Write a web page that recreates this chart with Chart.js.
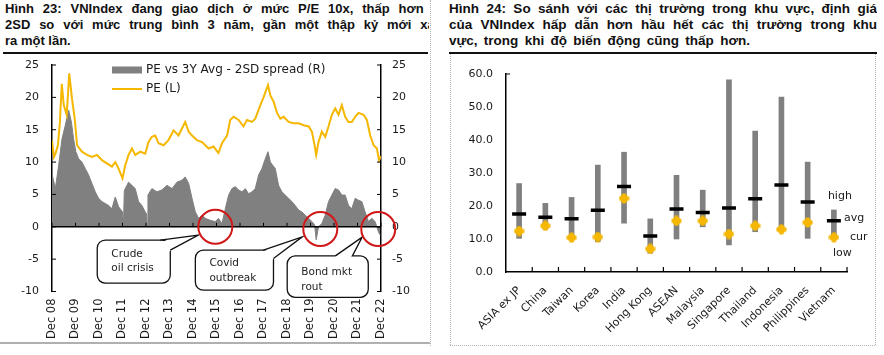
<!DOCTYPE html>
<html><head><meta charset="utf-8">
<script src="https://cdn.jsdelivr.net/npm/chart.js@4.4.1/dist/chart.umd.min.js"></script>
<style>
html,body{margin:0;padding:0;background:#fff;}
body{width:884px;height:355px;position:relative;overflow:hidden;font-family:"Liberation Sans",Arial,sans-serif;}
.title{position:absolute;top:1px;font-weight:bold;font-size:13.5px;line-height:16px;color:#111;overflow:hidden;height:50px;}
.title div{white-space:nowrap;}
.just{text-align:justify;text-align-last:justify;}
.rule{position:absolute;top:52px;height:2px;background:#111;}
.vdot{position:absolute;border-left:1px dotted #b5b5b5;}
.hdot{position:absolute;border-top:1px dotted #b5b5b5;}
canvas{position:absolute;top:0;}
</style></head><body>
<div class="title" style="left:5px;width:424px;font-size:13px;">
  <div class="just" style="width:432px">Hình 23: VNIndex đang giao dịch ở mức P/E 10x, thấp hơn -</div>
  <div class="just" style="width:437px">2SD so với mức trung bình 3 năm, gần một thập kỷ mới xảy</div>
  <div>ra một lần.</div>
</div>
<div class="title" style="left:449px;width:428px;">
  <div class="just">Hình 24: So sánh với các thị trường trong khu vực, định giá</div>
  <div class="just">của VNIndex hấp dẫn hơn hầu hết các thị trường trong khu</div>
  <div class="just" style="width:301px">vực, trong khi độ biến động cũng thấp hơn.</div>
</div>
<div class="rule" style="left:3px;width:425px;"></div>
<div class="rule" style="left:449px;width:428px;"></div>
<div class="vdot" style="left:430px;top:0;height:346px;"></div>
<div style="position:absolute;left:0;top:342px;width:430px;height:0;border-top:2px solid #b0b0b0;"></div>
<div class="vdot" style="left:450px;top:54px;height:291px;"></div>
<div class="vdot" style="left:875px;top:54px;height:291px;"></div>
<div class="hdot" style="left:450px;top:345px;width:425px;"></div>
<canvas id="left" width="430" height="355" style="left:0"></canvas>
<canvas id="right" width="425" height="355" style="left:450px"></canvas>
<script>
// ---------- Left chart data (months since Dec 2008) ----------
const xTickLabels = ['Dec 08','Dec 09','Dec 10','Dec 11','Dec 12','Dec 13','Dec 14','Dec 15','Dec 16','Dec 17','Dec 18','Dec 19','Dec 20','Dec 21','Dec 22'];
const peMonths = [0,1,2,3,4,5,6,7.5,8.8,10.2,11.6,12.8,15.3,17.9,20.4,23,25.5,28,30.6,32.3,34,36,37.4,39.1,40.8,42.5,45.1,47.6,49.3,51,52.7,54.4,57,59.5,62.1,64.6,68,69.8,71.5,74,76.6,80,82.5,85,86.8,89.4,91,92.7,95.3,97.8,99.5,102.1,103.8,106.4,108,110.3,111.5,113.2,114.9,116.6,118.3,120.8,123.4,125.9,128.5,131.1,132.7,134.1,134.9,136.1,137.8,139.5,141.2,142.9,144.6,146.3,148,149.7,151.4,153.1,154.8,156.5,159.1,160.8,162.5,164.2,165.9,167,168];
const peValues = [13.3,10.8,11.5,12.6,16.0,22.1,18.8,17.3,23.7,19.8,16.7,12.6,11.6,11.1,10.8,11.1,10.3,9.8,9.3,10.0,9.0,7.5,9.5,11.1,12.1,11.1,11.6,11.3,13.1,13.9,14.1,12.9,12.6,13.4,14.9,14.1,16.2,14.7,14.1,13.4,13.1,12.1,12.4,11.4,12.9,14.1,16.5,17.0,16.5,15.5,16.5,16.2,16.7,18.8,20.0,21.9,20.3,19.3,17.6,16.7,17.0,16.2,16.0,16.0,15.7,15.5,14.7,12.6,11.1,13.1,14.7,13.9,15.5,17.3,18.3,17.3,18.8,17.0,16.2,16.2,17.0,17.6,17.3,16.5,14.1,12.6,12.1,10.3,10.9];
const spreadMonths = [0,1.7,3.4,5.1,6.8,8.5,9.9,11,12.2,13.6,15.3,17,18.7,20.4,22.1,23.8,25.5,27.2,28.9,30.6,32.3,34,36,36.5,36.9,37.4,39.1,40.8,42.5,44.2,45.9,47.6,48.3,48.6,49,51,53.6,56.1,58.7,61.3,63.8,66.4,68,69.8,71.5,73.2,74.9,76.6,78.3,80.8,83.4,85,86.8,88.5,90.2,91.9,93.6,95.3,97,98.7,100.4,102.1,103.8,105.5,107.2,108.9,110.3,111.5,112.7,114,115.7,117.4,119.1,120.8,122.5,124.2,125.9,127.6,129.3,131.1,132.7,134.1,134.9,136.1,137.8,139.5,141.2,142.9,144.6,146.3,148,149.7,151.4,153.1,154.8,156.5,158.2,159.9,161.6,163.3,165,166.7,167.6];
const spreadValues = [8.2,5.9,9.5,13.6,15.7,18.0,16.2,13.6,11.6,10.5,10.0,9.0,8.0,6.7,5.4,4.4,3.9,3.6,3.3,2.8,4.6,3.1,2.3,0.2,5.5,5.9,6.9,6.4,5.9,3.9,3.3,2.3,2.0,0.2,4.9,5.9,5.4,5.7,6.4,5.9,6.9,7.2,7.7,6.7,4.4,2.3,1.3,1.8,1.3,1.0,0.8,1.3,0.5,2.8,4.9,5.9,6.2,5.7,5.4,5.9,5.1,5.4,5.9,8.0,9.0,10.5,11.6,10.0,9.5,9.0,6.4,5.4,4.9,4.4,3.9,3.3,2.6,2.3,1.8,1.3,0.8,0.3,-2.0,0.0,0.5,1.8,3.9,4.9,5.9,5.7,4.9,4.9,3.3,2.8,4.4,4.1,3.9,2.3,0.8,1.3,0.8,-0.8,-1.3];
const seriesNames = ['PE vs 3Y Avg - 2SD spread (R)', 'PE (L)'];

// ---------- Right chart data ----------
const countries = ['ASIA ex JP','China','Taiwan','Korea','India','Hong Kong','ASEAN','Malaysia','Singapore','Thailand','Indonesia','Philippines','Vietnam'];
const highVals = [26.8,20.8,22.6,32.4,36.3,16.1,29.3,24.8,58.2,42.7,53.0,33.3,18.8];
const lowVals  = [10.2,13.0,10.0,9.2,14.8,5.7,10.0,13.7,8.2,12.2,12.5,10.2,10.5];
const avgVals  = [17.6,16.6,16.1,18.7,25.9,10.9,19.1,18.0,19.4,22.2,26.4,21.2,15.5];
const curVals  = [12.4,14.0,10.4,10.6,22.3,7.0,15.5,15.5,11.5,14.0,12.9,15.0,10.5];

const GREY = '#808080', GOLD = '#F5B700', TXT = '#1a1a1a';
Chart.defaults.font.family = '"DejaVu Sans", sans-serif';
Chart.defaults.color = TXT;

// annotations (in data units)
const callouts = [
  {lines:['Crude','oil crisis'], circle:[83.4,0], box:[23.1,60.4,-2.05,-8.7], base:[[55.3,-2.05],[60.4,-3.6]], tip:[74.7,-1.3], text:[30.3,-4.2,-6.4]},
  {lines:['Covid','outbreak'], circle:[137,-0.35], box:[73.2,113.1,-3.6,-9.8], base:[[107.9,-3.6],[113.1,-4.9]], tip:[127.8,-1.55], text:[80.4,-5.6,-7.9]},
  {lines:['Bond mkt','rout'], circle:[166.6,-0.35], box:[120.1,161.5,-4.5,-10.9], base:[[144.7,-4.5],[153.4,-4.5]], tip:[158.4,-1.6], text:[127.3,-7.0,-9.3]}
];

const leftDecor = {
  id: 'leftDecor',
  afterDraw(chart) {
    const {ctx, chartArea: a, scales} = chart;
    const x = scales.x, yL = scales.yL, yR = scales.yR;
    ctx.save();
    const y0 = yL.getPixelForValue(0);
    ctx.strokeStyle = '#000';
    ctx.lineWidth = 1.5;
    ctx.beginPath(); ctx.moveTo(a.left, y0); ctx.lineTo(a.right, y0); ctx.stroke();
    ctx.lineWidth = 1;
    ctx.beginPath();
    x.ticks.forEach(t => { const px = x.getPixelForValue(t.value); ctx.moveTo(px, y0); ctx.lineTo(px, y0 - 4); });
    yL.ticks.forEach(t => { const py = yL.getPixelForValue(t.value); ctx.moveTo(a.left, py); ctx.lineTo(a.left + 4, py); });
    yR.ticks.forEach(t => { const py = yR.getPixelForValue(t.value); ctx.moveTo(a.right, py); ctx.lineTo(a.right - 4, py); });
    ctx.stroke();
    // legend
    const lx = a.left + 60, ly = a.top + 5;
    ctx.fillStyle = GREY; ctx.fillRect(lx, ly - 3.5, 30, 7);
    ctx.strokeStyle = GOLD; ctx.lineWidth = 2;
    ctx.beginPath(); ctx.moveTo(lx, ly + 19); ctx.lineTo(lx + 30, ly + 19); ctx.stroke();
    ctx.fillStyle = TXT; ctx.font = '12px "DejaVu Sans"'; ctx.textBaseline = 'middle'; ctx.textAlign = 'left';
    ctx.fillText(seriesNames[0], lx + 34, ly);
    ctx.fillText(seriesNames[1], lx + 34, ly + 19);
    // callouts
    ctx.font = '10.5px "DejaVu Sans"';
    callouts.forEach(c => {
      const bx1 = x.getPixelForValue(c.box[0]), bx2 = x.getPixelForValue(c.box[1]);
      const by1 = yR.getPixelForValue(c.box[2]), by2 = yR.getPixelForValue(c.box[3]);
      ctx.fillStyle = '#fff'; ctx.strokeStyle = '#111'; ctx.lineWidth = 1.3;
      ctx.beginPath(); ctx.roundRect(bx1, by1, bx2 - bx1, by2 - by1, 8); ctx.fill(); ctx.stroke();
      const b1 = [x.getPixelForValue(c.base[0][0]), yR.getPixelForValue(c.base[0][1])];
      const b2 = [x.getPixelForValue(c.base[1][0]), yR.getPixelForValue(c.base[1][1])];
      const tp = [x.getPixelForValue(c.tip[0]), yR.getPixelForValue(c.tip[1])];
      const in1 = [b1[0] - 2, b1[1] + 2], in2 = [b2[0] - 2, b2[1] + 2];
      ctx.beginPath(); ctx.moveTo(in1[0], in1[1]); ctx.lineTo(tp[0], tp[1]); ctx.lineTo(in2[0], in2[1]); ctx.closePath(); ctx.fill();
      ctx.beginPath(); ctx.moveTo(b1[0], b1[1]); ctx.lineTo(tp[0], tp[1]); ctx.lineTo(b2[0], b2[1]); ctx.stroke();
      ctx.fillStyle = '#222';
      const tx = x.getPixelForValue(c.text[0]);
      ctx.fillText(c.lines[0], tx, yR.getPixelForValue(c.text[1]));
      ctx.fillText(c.lines[1], tx, yR.getPixelForValue(c.text[2]));
    });
    ctx.strokeStyle = '#D01818'; ctx.lineWidth = 2;
    callouts.forEach(c => {
      ctx.beginPath();
      ctx.arc(x.getPixelForValue(c.circle[0]), yR.getPixelForValue(c.circle[1]), 17, 0, Math.PI * 2);
      ctx.stroke();
    });
    ctx.restore();
  }
};

new Chart(document.getElementById('left'), {
  type: 'line',
  data: {
    datasets: [
      { label: seriesNames[0], data: spreadMonths.map((m, i) => ({x: m, y: spreadValues[i]})), yAxisID: 'yR',
        backgroundColor: GREY, borderColor: GREY, borderWidth: 1, fill: 'origin', pointRadius: 0, tension: 0, order: 2 },
      { label: seriesNames[1], data: peMonths.map((m, i) => ({x: m, y: peValues[i]})), yAxisID: 'yL',
        borderColor: GOLD, borderWidth: 2, fill: false, pointRadius: 0, tension: 0, order: 1 }
    ]
  },
  options: {
    responsive: false, animation: false, events: [],
    plugins: { legend: {display: false}, tooltip: {enabled: false} },
    layout: { padding: { top: 65, left: 0, right: 0, bottom: 0 } },
    scales: {
      x: { type: 'linear', min: 0, max: 168,
        afterBuildTicks: s => { s.ticks = xTickLabels.map((_, i) => ({value: i * 12})); },
        ticks: { autoSkip: false, minRotation: 90, maxRotation: 90, padding: 7, font: {size: 11.5},
          callback: v => xTickLabels[Math.round(v / 12)] },
        grid: { display: false, drawTicks: false }, border: { display: false },
        afterFit: s => { s.height = 63.5; } },
      yL: { position: 'left', min: -10, max: 25, ticks: { stepSize: 5, padding: 13, font: {size: 11} },
        grid: { drawOnChartArea: false, drawTicks: false }, border: { color: '#000', width: 1.5 },
        afterFit: s => { s.width = 52; } },
      yR: { position: 'right', min: -10, max: 25, ticks: { stepSize: 5, padding: 11, font: {size: 11} },
        grid: { drawOnChartArea: false, drawTicks: false }, border: { color: '#000', width: 1.5 },
        afterFit: s => { s.width = 49; } }
    }
  },
  plugins: [leftDecor]
});

// ---------- Right chart ----------
function makeCurMarker(color) {
  const c = document.createElement('canvas'); c.width = 11; c.height = 11;
  const g = c.getContext('2d'); g.fillStyle = color;
  g.beginPath(); g.arc(5.5, 5.5, 3.9, 0, Math.PI * 2); g.fill();
  g.fillRect(3.5, 0.5, 4, 10); g.fillRect(0.5, 3.5, 10, 4);
  return c;
}
const keyLabels = [
  {text: 'high', dx: -6, value: 23.0},
  {text: 'avg', dx: 10, value: 16.4},
  {text: 'cur', dx: 16, value: 10.6},
  {text: 'low', dx: -1, value: 5.8}
];
const rightDecor = {
  id: 'rightDecor',
  afterDraw(chart) {
    const {ctx, chartArea: a, scales: {x, y}} = chart;
    ctx.save();
    ctx.strokeStyle = '#000'; ctx.lineWidth = 1.2;
    ctx.beginPath();
    const yTop = y.getPixelForValue(y.max);
    ctx.moveTo(a.left, yTop); ctx.lineTo(a.left + 4, yTop);
    for (let i = 0; i < countries.length; i++) {
      const px = i < countries.length - 1 ? (x.getPixelForValue(i) + x.getPixelForValue(i + 1)) / 2 : a.right;
      ctx.moveTo(px, a.bottom); ctx.lineTo(px, a.bottom - 5);
    }
    ctx.stroke();
    const vx = x.getPixelForValue(countries.length - 1);
    ctx.fillStyle = TXT; ctx.font = '11px "DejaVu Sans"'; ctx.textBaseline = 'middle'; ctx.textAlign = 'left';
    keyLabels.forEach(k => ctx.fillText(k.text, vx + k.dx, y.getPixelForValue(k.value)));
    ctx.restore();
  }
};

new Chart(document.getElementById('right'), {
  type: 'bar',
  data: {
    labels: countries,
    datasets: [
      { type: 'bar', label: 'range', data: countries.map((_, i) => [lowVals[i], highVals[i]]),
        backgroundColor: GREY, barThickness: 5, order: 3 },
      { type: 'line', label: 'avg', data: avgVals, showLine: false, pointStyle: 'line', pointRadius: 7,
        pointBorderWidth: 3.5, pointBorderColor: '#000', borderColor: '#000', order: 2 },
      { type: 'line', label: 'cur', data: curVals, showLine: false, pointStyle: makeCurMarker(GOLD),
        pointRadius: 5, order: 1 }
    ]
  },
  options: {
    responsive: false, animation: false, events: [],
    plugins: { legend: {display: false}, tooltip: {enabled: false} },
    layout: { padding: { top: 74, right: 28, left: 0, bottom: 0 } },
    scales: {
      x: { ticks: { autoSkip: false, minRotation: 45, maxRotation: 45, padding: 12, font: {size: 11} },
        grid: { display: false, drawTicks: false }, border: { color: '#000', width: 1.5 },
        afterFit: s => { s.height = 83; } },
      y: { min: 0, max: 60, ticks: { stepSize: 10, padding: 13, font: {size: 11}, callback: v => v.toFixed(1) },
        grid: { drawOnChartArea: false, drawTicks: false }, border: { color: '#000', width: 1.5 },
        afterFit: s => { s.width = 56; } }
    }
  },
  plugins: [rightDecor]
});
</script>
</body></html>
